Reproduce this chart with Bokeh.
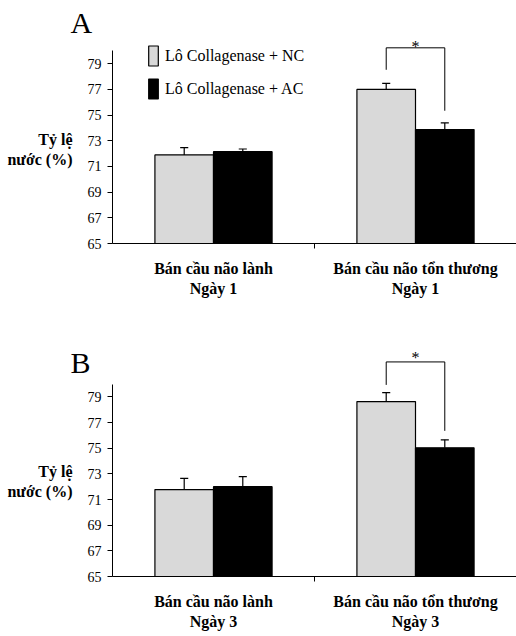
from bokeh.plotting import figure
from bokeh.layouts import column
from bokeh.models import FixedTicker, Legend, LegendItem, Range1d, Title
from bokeh.embed import file_html
from bokeh.resources import INLINE
from bokeh.core.properties import value

# ---------------- data ----------------
group_x = [1, 3]
cats_A = ["Bán cầu não lành\nNgày 1", "Bán cầu não tổn thương\nNgày 1"]
cats_B = ["Bán cầu não lành\nNgày 3", "Bán cầu não tổn thương\nNgày 3"]
series_names = ["Lô Collagenase + NC", "Lô Collagenase + AC"]
y_label = "Tỷ lệ\nnước (%)"

nc_A = [71.9, 77.0]
nc_err_A = [0.57, 0.47]
ac_A = [72.15, 73.87]
ac_err_A = [0.21, 0.52]

nc_B = [71.77, 78.63]
nc_err_B = [0.88, 0.70]
ac_B = [72.0, 75.03]
ac_err_B = [0.78, 0.62]

y_ticks = [65, 67, 69, 71, 73, 75, 77, 79]
# significance bracket: left leg bottom, right leg bottom, top, star level
bracket_A = [78.53, 75.34, 80.24, 80.35]
bracket_B = [79.93, 76.35, 81.72, 82.1]

SERIF = "Liberation Serif"


def make_panel(letter, cats, nc, nc_err, ac, ac_err, bracket, y_end, height,
               b_top, b_bottom, b_left, title_offset, title_standoff, ylab_pad, legend_on):
    p = figure(width=516, height=height, output_backend="svg", toolbar_location=None,
               x_range=Range1d(0, 4), y_range=Range1d(65, y_end),
               min_border_left=b_left, min_border_right=0,
               min_border_top=b_top, min_border_bottom=b_bottom)
    p.outline_line_color = None
    p.grid.grid_line_color = None
    p.background_fill_color = "white"
    p.border_fill_color = "white"

    off = 0.29
    w = 0.58
    xs_nc = [g - off for g in group_x]
    xs_ac = [g + off for g in group_x]
    r_nc = p.vbar(x=xs_nc, top=nc, bottom=65, width=w, fill_color="#d9d9d9",
                  line_color="black", line_width=1.2)
    r_ac = p.vbar(x=xs_ac, top=ac, bottom=65, width=w, fill_color="black",
                  line_color="black", line_width=1.2)

    for xs, vals, errs in ((xs_nc, nc, nc_err), (xs_ac, ac, ac_err)):
        tops = [v + e for v, e in zip(vals, errs)]
        p.segment(x0=xs, y0=vals, x1=xs, y1=tops, line_color="black", line_width=1.2)
        p.segment(x0=[x - 0.04 for x in xs], y0=tops, x1=[x + 0.04 for x in xs], y1=tops,
                  line_color="black", line_width=1.2)

    xl, xr = xs_nc[1], xs_ac[1]
    p.line(x=[xl, xl, xr, xr], y=[bracket[0], bracket[2], bracket[2], bracket[1]],
           line_color="black", line_width=1)
    p.text(x=[(xl + xr) / 2], y=[bracket[3]], text=["*"], text_font=value(SERIF),
           text_font_size="16px", text_align="center", text_baseline="middle",
           text_color="black")

    # axes
    ya = p.yaxis[0]
    ya.ticker = FixedTicker(ticks=y_ticks)
    ya.bounds = (65, 80)
    ya.axis_line_color = "black"
    ya.major_tick_line_color = "black"
    ya.major_tick_out = 5
    ya.major_tick_in = 0
    ya.minor_tick_line_color = None
    ya.major_label_text_font = SERIF
    ya.major_label_text_font_size = "14px"
    ya.major_label_text_color = "black"
    ya.major_label_standoff = 6
    ya.axis_label = "\n" * ylab_pad + y_label
    ya.axis_label_orientation = "horizontal"
    ya.axis_label_text_font = SERIF
    ya.axis_label_text_font_style = "bold"
    ya.axis_label_text_font_size = "16px"
    ya.axis_label_text_color = "black"
    ya.axis_label_standoff = 12

    xa = p.xaxis[0]
    xa.ticker = FixedTicker(ticks=group_x, minor_ticks=[2])
    xa.major_label_overrides = {group_x[0]: cats[0], group_x[1]: cats[1]}
    xa.axis_line_color = "black"
    xa.major_tick_out = 0
    xa.major_tick_in = 0
    xa.minor_tick_out = 5
    xa.minor_tick_in = 0
    xa.minor_tick_line_color = "black"
    xa.major_label_text_font = SERIF
    xa.major_label_text_font_style = "bold"
    xa.major_label_text_font_size = "16px"
    xa.major_label_text_color = "black"
    xa.major_label_standoff = 11

    p.add_layout(Title(text=letter, align="left", offset=title_offset, standoff=title_standoff,
                       text_font=SERIF, text_font_size="30px", text_font_style="normal",
                       text_color="black"), "above")

    if legend_on:
        legend = Legend(items=[LegendItem(label=series_names[0], renderers=[r_nc]),
                               LegendItem(label=series_names[1], renderers=[r_ac])],
                        location=(35, 142))
        legend.glyph_width = 12
        legend.glyph_height = 25
        legend.label_standoff = 6
        legend.spacing = 8
        legend.padding = 0
        legend.margin = 0
        legend.border_line_color = None
        legend.background_fill_alpha = 0
        legend.label_text_font = SERIF
        legend.label_text_font_size = "16px"
        legend.label_text_color = "black"
        p.add_layout(legend)
    return p


pA = make_panel("A", cats_A, nc_A, nc_err_A, ac_A, ac_err_A, bracket_A, 81.2, 320,
                35, 77, 112, -42, -6, 1, True)
pB = make_panel("B", cats_B, nc_B, nc_err_B, ac_B, ac_err_B, bracket_B, 83.0, 316,
                25, 60, 108, -42, -66, 2, False)

layout = column(pA, pB, spacing=0)
open("out.html", "w").write(file_html(layout, INLINE))
